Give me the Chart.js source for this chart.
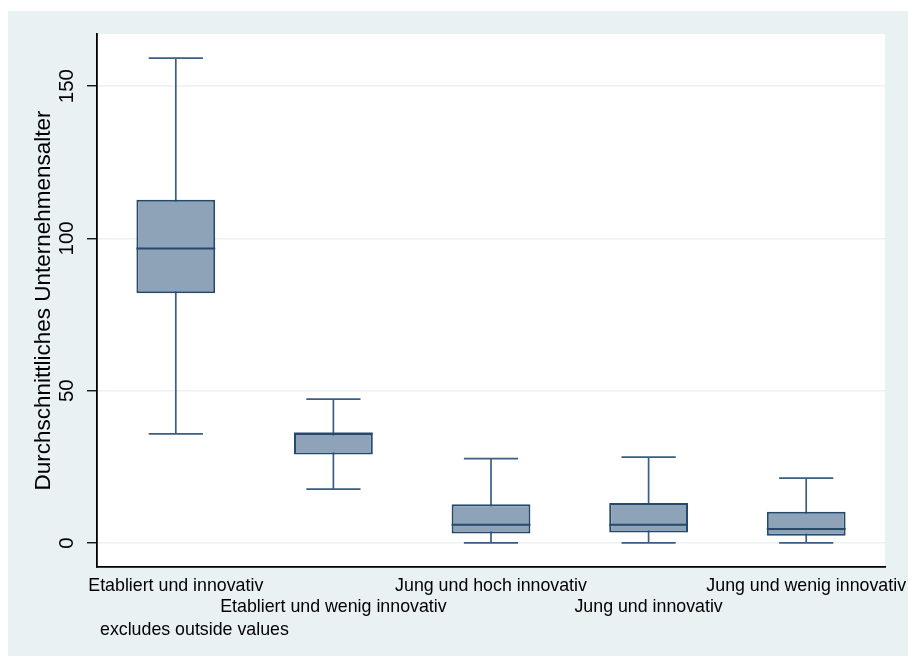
<!DOCTYPE html>
<html lang="de">
<head>
  <meta charset="UTF-8">
  <title>Unternehmensalter</title>
  <script src="https://cdn.jsdelivr.net/npm/chart.js"></script>
  <style>
    html, body { margin: 0; padding: 0; background: #ffffff; }
    #wrap { width: 908px; height: 656px; }
  </style>
</head>
<body>
  <div id="wrap"><canvas id="box-chart" width="908" height="656"></canvas></div>
  <script>
    // Kategorien (zweizeilig versetzt wie im Original)
    const groups = ['Etabliert und innovativ', 'Etabliert und wenig innovativ', 'Jung und hoch innovativ', 'Jung und innovativ', 'Jung und wenig innovativ'];
    // Boxplot-Kennwerte
    const whiskerLow = [35.8, 17.7, 0, 0, 0];
    const q1 = [82.0, 29.0, 3.1, 3.4, 2.4];
    const median = [96.7, 35.9, 6.0, 6.0, 4.6];
    const q3 = [112.7, 35.9, 12.7, 13.1, 10.2];
    const whiskerHigh = [159.2, 47.2, 27.7, 28.2, 21.3];
    const yTicks = [0, 50, 100, 150];

    const fontFam = "'Liberation Sans', Arial, sans-serif";
    const panelColor = '#e9f1f3';
    const boxFill = '#8ea3b8';
    const boxLine = '#26496e';
    const whiskColor = '#3a5e84';

    const xLabels = groups.map((g, i) => i % 2 === 0 ? [g, ''] : ['', g]);

    const boxExtras = {
      id: 'boxExtras',
      beforeDraw(chart) {
        const { ctx, chartArea: a } = chart;
        ctx.save();
        ctx.fillStyle = panelColor;
        ctx.fillRect(8, 11, chart.width - 8, chart.height - 11);
        ctx.fillStyle = '#ffffff';
        ctx.fillRect(a.left, a.top, a.right - a.left, a.bottom - a.top);
        ctx.restore();
      },
      beforeDatasetsDraw(chart) {
        const { ctx, scales: { x, y } } = chart;
        const capHalf = (x.getPixelForValue(1) - x.getPixelForValue(0)) * 0.172;
        ctx.save();
        ctx.strokeStyle = whiskColor;
        ctx.lineWidth = 1.7;
        groups.forEach((g, i) => {
          const cx = x.getPixelForValue(i);
          const lo = y.getPixelForValue(whiskerLow[i]);
          const hi = y.getPixelForValue(whiskerHigh[i]);
          ctx.beginPath();
          ctx.moveTo(cx, lo); ctx.lineTo(cx, hi);
          ctx.moveTo(cx - capHalf, lo); ctx.lineTo(cx + capHalf, lo);
          ctx.moveTo(cx - capHalf, hi); ctx.lineTo(cx + capHalf, hi);
          ctx.stroke();
        });
        ctx.restore();
      },
      afterDatasetsDraw(chart) {
        const { ctx, chartArea: a, scales: { x, y } } = chart;
        const meta = chart.getDatasetMeta(0);
        ctx.save();
        // Mediane
        ctx.strokeStyle = boxLine;
        ctx.lineWidth = 2;
        meta.data.forEach((bar, i) => {
          const py = y.getPixelForValue(median[i]);
          ctx.beginPath();
          ctx.moveTo(bar.x - bar.width / 2, py);
          ctx.lineTo(bar.x + bar.width / 2, py);
          ctx.stroke();
        });
        // gedrehte Achsenbeschriftung (Stata-Stil)
        ctx.fillStyle = '#000';
        ctx.font = '20.5px ' + fontFam;
        ctx.textAlign = 'center';
        ctx.textBaseline = 'middle';
        yTicks.forEach(v => {
          ctx.save();
          ctx.translate(a.left - 30, y.getPixelForValue(v));
          ctx.rotate(-Math.PI / 2);
          ctx.fillText(String(v), 0, 0);
          ctx.restore();
        });
        // Hinweis
        ctx.font = '17.8px ' + fontFam;
        ctx.textAlign = 'left';
        ctx.fillText('excludes outside values', a.left + 3, a.bottom + 63);
        ctx.restore();
      }
    };

    new Chart(document.getElementById('box-chart'), {
      type: 'bar',
      data: {
        labels: xLabels,
        datasets: [{
          data: groups.map((g, i) => [q1[i], q3[i]]),
          backgroundColor: boxFill,
          borderColor: boxLine,
          borderWidth: 2,
          borderSkipped: false,
          barPercentage: 0.5,
          categoryPercentage: 1.0
        }]
      },
      options: {
        responsive: false,
        animation: false,
        layout: { padding: { left: 20, right: 23, top: 34, bottom: 0 } },
        plugins: {
          legend: { display: false },
          tooltip: { enabled: false }
        },
        scales: {
          x: {
            offset: true,
            grid: { display: false, drawTicks: false },
            border: { display: true, color: '#000', width: 1.8 },
            ticks: {
              autoSkip: false,
              maxRotation: 0,
              minRotation: 0,
              padding: 8,
              color: '#000',
              font: { family: fontFam, size: 17.8 }
            },
            afterFit(s) { s.height = 89; s.paddingLeft = 0; s.paddingRight = 0; }
          },
          y: {
            min: -7.9,
            max: 167.1,
            afterBuildTicks(s) { s.ticks = yTicks.map(v => ({ value: v })); },
            grid: { color: '#eaf2f3', lineWidth: 1.5, tickColor: '#000', tickLength: 10, tickWidth: 1.3 },
            border: { display: true, color: '#000', width: 1.8 },
            ticks: { display: false },
            title: {
              display: true,
              text: 'Durchschnittliches Unternehmensalter',
              color: '#000',
              font: { family: fontFam, size: 22.5 },
              padding: { top: 10, bottom: 0 }
            },
            afterFit(s) { s.width = 77; }
          }
        }
      },
      plugins: [boxExtras]
    });
  </script>
</body>
</html>
